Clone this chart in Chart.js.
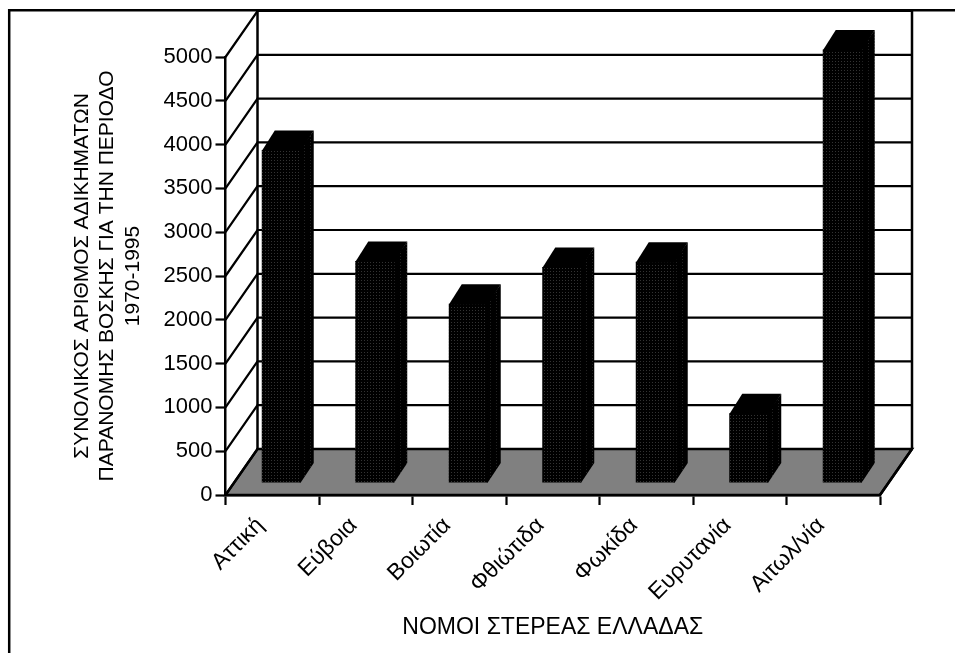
<!DOCTYPE html>
<html><head><meta charset="utf-8">
<script src="https://cdn.jsdelivr.net/npm/chart.js@4"></script>
<style>html,body{margin:0;padding:0;background:#fff}canvas{display:block}</style>
</head><body><canvas id="c" width="955" height="653"></canvas>
<script>
const categories = ["Αττική","Εύβοια","Βοιωτία","Φθιώτιδα","Φωκίδα","Ευρυτανία","Αιτωλ/νία"];
const offences = [3800, 2535, 2045, 2465, 2525, 795, 4950];
const yTitle = ["ΣΥΝΟΛΙΚΟΣ ΑΡΙΘΜΟΣ ΑΔΙΚΗΜΑΤΩΝ","ΠΑΡΑΝΟΜΗΣ ΒΟΣΚΗΣ ΓΙΑ ΤΗΝ ΠΕΡΙΟΔΟ","1970-1995"];
const xTitle = "ΝΟΜΟΙ ΣΤΕΡΕΑΣ ΕΛΛΑΔΑΣ";
const FONT = "'Liberation Sans', Arial, sans-serif";
const WALL = {dx:32, dy:-46}, BAR_SHIFT = {dx:9, dy:-12}, BAR_DEPTH = {dx:13, dy:-19.5};

function dots(w,h,col){
  const t=document.createElement('canvas');t.width=w;t.height=h;
  const g=t.getContext('2d');g.fillStyle='#000';g.fillRect(0,0,w,h);
  g.fillStyle=col;g.fillRect(1,1,1,1);
  return g.createPattern(t,'repeat');
}
const frontPattern=dots(3,3,'#333333'), sidePattern=dots(6,3,'#222222');

const cube3d={
  id:'cube3d',
  beforeDraw(ch){
    const c=ch.ctx;
    c.save();c.strokeStyle='#000';c.lineWidth=2.5;
    c.beginPath();c.moveTo(9.2,653);c.lineTo(9.2,10.2);c.lineTo(955,10.2);c.stroke();
    c.restore();
  },
  beforeDatasetsDraw(ch){
    const c=ch.ctx,x=ch.scales.x,y=ch.scales.y,L=x.left,R=x.right,B=y.getPixelForValue(0);
    c.save();c.strokeStyle='#000';c.lineJoin='miter';
    c.fillStyle='#808080';c.lineWidth=2.5;
    c.beginPath();c.moveTo(L,B);c.lineTo(R,B);c.lineTo(R+WALL.dx,B+WALL.dy);c.lineTo(L+WALL.dx,B+WALL.dy);c.closePath();c.fill();c.stroke();
    const top=y.getPixelForValue(y.max);
    c.lineWidth=2.2;
    y.ticks.forEach(t=>{
      const p=y.getPixelForValue(t.value);
      c.beginPath();c.moveTo(L,p);c.lineTo(L+WALL.dx,p+WALL.dy);c.lineTo(R+WALL.dx,p+WALL.dy);c.stroke();
    });
    c.lineWidth=2.5;
    c.beginPath();c.moveTo(L+WALL.dx,top+WALL.dy);c.lineTo(L+WALL.dx,B+WALL.dy);c.stroke();
    c.beginPath();c.moveTo(R+WALL.dx,top+WALL.dy);c.lineTo(R+WALL.dx,B+WALL.dy);c.stroke();
    c.beginPath();c.moveTo(R,B);c.lineTo(R+WALL.dx,B+WALL.dy);c.stroke();
    c.restore();
  },
  beforeDatasetDraw(ch){ch.ctx.save();ch.ctx.translate(BAR_SHIFT.dx,BAR_SHIFT.dy);},
  afterDatasetDraw(ch,args){
    const c=ch.ctx;
    args.meta.data.forEach(b=>{
      const l=b.x-b.width/2,r=b.x+b.width/2,t=b.y,bt=b.base;
      c.fillStyle=sidePattern;
      c.beginPath();c.moveTo(r-1,t);c.lineTo(r+BAR_DEPTH.dx,t+BAR_DEPTH.dy);c.lineTo(r+BAR_DEPTH.dx,bt+BAR_DEPTH.dy);c.lineTo(r,bt);c.lineTo(r-1,bt);c.closePath();c.fill();
      c.fillStyle='#000';
      c.beginPath();c.moveTo(l,t+1);c.lineTo(l+BAR_DEPTH.dx,t+BAR_DEPTH.dy);c.lineTo(r+BAR_DEPTH.dx,t+BAR_DEPTH.dy);c.lineTo(r,t+1);c.closePath();c.fill();
    });
    c.restore();
  }
};

new Chart(document.getElementById('c'),{
  type:'bar',
  data:{labels:categories,datasets:[{data:offences,backgroundColor:frontPattern,borderWidth:0,barPercentage:0.417,categoryPercentage:1,clip:false}]},
  plugins:[cube3d],
  options:{
    responsive:false,animation:false,
    layout:{padding:{left:0,right:75,top:57,bottom:0}},
    plugins:{legend:{display:false},tooltip:{enabled:false},title:{display:false}},
    scales:{
      x:{
        afterFit(s){s.height=158;},
        grid:{drawOnChartArea:false,color:'#000',tickColor:'#000',tickLength:10,tickWidth:2.2,offset:true},
        border:{color:'#000',width:2.5},
        ticks:{color:'#000',font:{family:FONT,size:23},minRotation:45,maxRotation:45,autoSkip:false,padding:7,labelOffset:-12},
        title:{display:true,text:xTitle,color:'#000',font:{family:FONT,size:23},padding:{top:0,bottom:12}}
      },
      y:{
        min:0,max:5000,
        afterFit(s){s.width=225.5;},
        grid:{drawOnChartArea:false,color:'#000',tickColor:'#000',tickLength:10,tickWidth:2.2},
        border:{color:'#000',width:2.5},
        ticks:{color:'#000',font:{family:FONT,size:22},stepSize:500,padding:3,callback:v=>String(v)},
        title:{display:true,text:yTitle,color:'#000',font:{family:FONT,size:21,lineHeight:1.22},padding:{top:69,bottom:0}}
      }
    }
  }
});
</script></body></html>
